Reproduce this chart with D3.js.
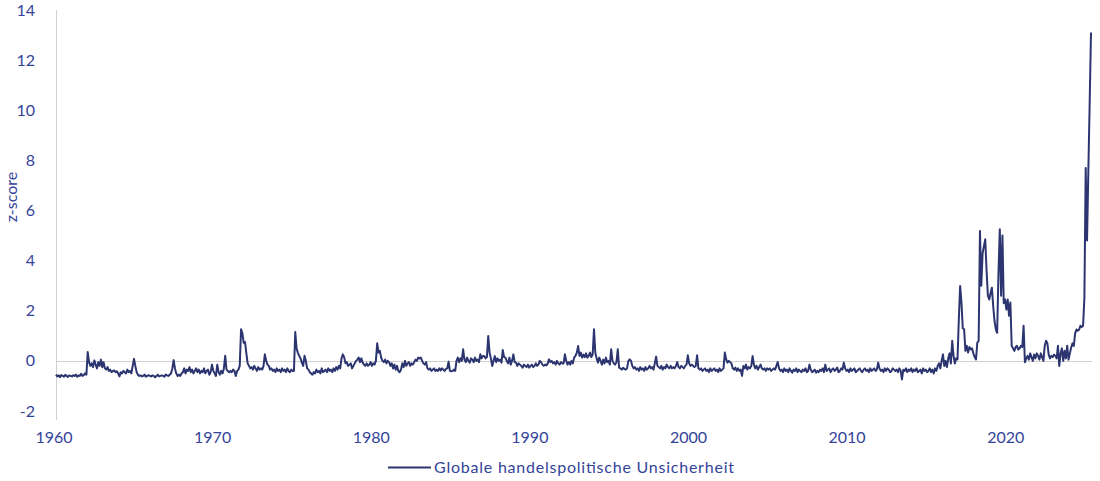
<!DOCTYPE html>
<html><head><meta charset="utf-8">
<script src="https://cdn.jsdelivr.net/npm/d3@7"></script>
<style>
html,body{margin:0;padding:0;background:#fff;}
svg text{font-family:Lato,"Open Sans",sans-serif;fill:#33449a;}
</style></head>
<body><svg id="chart" width="1100" height="481"></svg>
<script>
// Monthly z-scores, one row per year (Jan..Dec), grouped by decade
const startYear = 1960;
const vals1960s = [
 [-0.55,-0.62,-0.58,-0.65,-0.57,-0.6,-0.63,-0.56,-0.6,-0.64,-0.58,-0.6],
 [-0.62,-0.57,-0.6,-0.55,-0.63,-0.58,-0.6,-0.52,-0.6,-0.57,-0.5,-0.55],
 [0.35,-0.05,-0.2,-0.1,-0.25,0.02,-0.15,-0.3,-0.05,-0.2,0.05,-0.25],
 [-0.05,-0.3,-0.35,-0.25,-0.4,-0.35,-0.45,-0.4,-0.38,-0.45,-0.42,-0.5],
 [-0.62,-0.45,-0.5,-0.4,-0.45,-0.5,-0.35,-0.45,-0.4,-0.5,-0.2,0.08],
 [-0.2,-0.45,-0.55,-0.6,-0.58,-0.62,-0.6,-0.55,-0.63,-0.6,-0.57,-0.6],
 [-0.62,-0.58,-0.6,-0.65,-0.6,-0.55,-0.62,-0.6,-0.58,-0.6,-0.63,-0.55],
 [-0.58,-0.6,-0.55,-0.5,-0.3,0.03,-0.3,-0.5,-0.6,-0.55,-0.6,-0.5],
 [-0.45,-0.3,-0.5,-0.35,-0.4,-0.25,-0.45,-0.35,-0.5,-0.4,-0.3,-0.45],
 [-0.35,-0.5,-0.4,-0.45,-0.3,-0.5,-0.4,-0.35,-0.55,-0.45,-0.15,-0.4]
];
const vals1970s = [
 [-0.5,-0.6,-0.15,-0.45,-0.55,-0.4,-0.5,-0.3,0.2,-0.35,-0.4,-0.45],
 [-0.4,-0.45,-0.35,-0.4,-0.6,-0.4,-0.35,-0.2,1.26,1.1,0.72,0.75],
 [0.3,-0.1,-0.2,-0.3,-0.25,-0.35,-0.2,-0.3,-0.4,-0.25,-0.35,-0.3],
 [-0.35,-0.2,0.26,0.0,-0.15,-0.2,-0.35,-0.3,-0.4,-0.35,-0.45,-0.3],
 [-0.4,-0.35,-0.45,-0.3,-0.4,-0.35,-0.45,-0.3,-0.4,-0.45,-0.35,-0.4],
 [-0.4,1.15,0.5,0.32,0.2,0.1,-0.07,-0.2,0.2,0.0,-0.3,-0.35],
 [-0.45,-0.5,-0.55,-0.45,-0.5,-0.35,-0.45,-0.4,-0.5,-0.3,-0.45,-0.4],
 [-0.35,-0.45,-0.3,-0.4,-0.35,-0.45,-0.3,-0.4,-0.25,-0.35,-0.2,-0.3],
 [0.1,0.26,0.15,-0.1,-0.05,-0.2,-0.15,-0.1,-0.3,-0.2,-0.1,0.0],
 [0.05,0.13,-0.05,0.1,-0.07,-0.15,-0.2,-0.1,-0.2,-0.15,-0.05,-0.2]
];
const vals1980s = [
 [-0.1,-0.15,0.0,0.7,0.33,0.4,0.13,0.0,-0.05,0.05,-0.1,0.0],
 [-0.05,-0.2,-0.1,-0.3,-0.15,-0.35,-0.2,-0.4,-0.45,-0.35,-0.1,-0.25],
 [0.0,-0.2,-0.1,-0.05,-0.2,-0.1,-0.15,-0.05,0.05,0.0,0.13,0.1],
 [0.13,0.0,-0.1,-0.15,-0.05,-0.3,-0.35,-0.3,-0.4,-0.35,-0.3,-0.4],
 [-0.35,-0.4,-0.3,-0.38,-0.3,-0.35,-0.4,-0.32,-0.3,-0.03,-0.4,-0.42],
 [-0.4,-0.35,-0.4,0.0,0.13,-0.05,0.1,0.0,0.46,0.05,-0.05,0.13],
 [0.0,-0.07,0.1,0.05,-0.05,0.13,0.0,0.05,-0.05,0.26,0.1,0.19],
 [0.19,0.1,0.15,0.99,0.33,0.1,-0.2,0.0,0.19,-0.05,0.1,0.0],
 [0.05,-0.07,0.43,0.15,0.13,0.0,-0.1,0.13,-0.15,0.0,0.26,-0.05],
 [-0.07,-0.2,-0.1,-0.15,-0.2,-0.27,-0.15,-0.2,-0.25,-0.15,-0.27,-0.2]
];
const vals1990s = [
 [-0.15,-0.25,-0.2,-0.1,-0.2,-0.15,0.0,-0.05,-0.15,-0.2,-0.15,-0.18],
 [-0.1,0.06,-0.05,0.0,-0.1,-0.05,-0.15,0.0,-0.1,-0.15,-0.05,-0.1],
 [-0.1,0.26,0.0,-0.15,-0.05,-0.15,0.0,-0.1,0.13,0.2,0.33,0.59],
 [0.2,0.33,0.13,0.25,0.15,0.3,0.13,0.2,0.33,0.15,0.25,1.26],
 [0.33,0.1,-0.07,0.13,0.0,-0.15,0.05,-0.1,0.13,-0.05,0.0,-0.15],
 [0.46,0.0,-0.1,-0.15,-0.05,0.46,-0.27,-0.3,-0.35,-0.28,-0.32,-0.35],
 [-0.3,0.0,0.06,0.0,-0.2,-0.3,-0.25,-0.35,-0.3,-0.4,-0.25,-0.35],
 [-0.3,-0.4,-0.25,-0.35,-0.3,-0.2,-0.3,-0.25,-0.35,-0.1,0.17,-0.2],
 [-0.25,-0.3,-0.2,-0.35,-0.25,-0.3,-0.15,-0.25,-0.3,-0.2,-0.3,-0.25],
 [-0.3,-0.2,-0.05,-0.25,-0.3,-0.2,-0.25,-0.3,-0.2,-0.15,0.22,-0.1]
];
const vals2000s = [
 [-0.2,-0.15,-0.2,-0.25,-0.2,0.22,-0.3,-0.35,-0.3,-0.4,-0.35,-0.3],
 [-0.4,-0.35,-0.45,-0.3,-0.4,-0.35,-0.3,-0.4,-0.35,-0.45,-0.3,-0.4],
 [-0.35,-0.3,0.33,0.06,-0.07,0.0,-0.05,-0.1,-0.3,-0.35,-0.27,-0.4],
 [-0.3,-0.4,-0.35,-0.6,-0.2,-0.3,-0.15,-0.35,-0.25,-0.3,-0.2,0.19],
 [-0.15,-0.3,-0.2,-0.35,-0.25,-0.15,-0.3,-0.35,-0.3,-0.4,-0.3,-0.35],
 [-0.3,-0.4,-0.35,-0.3,-0.35,-0.2,-0.05,-0.3,-0.4,-0.35,-0.45,-0.3],
 [-0.4,-0.35,-0.45,-0.3,-0.4,-0.47,-0.35,-0.4,-0.3,-0.45,-0.35,-0.4],
 [-0.45,-0.35,-0.4,-0.3,-0.45,-0.4,-0.15,-0.35,-0.45,-0.4,-0.35,-0.47],
 [-0.4,-0.45,-0.35,-0.4,-0.3,-0.45,-0.15,-0.4,-0.35,-0.3,-0.45,-0.35],
 [-0.3,-0.4,-0.35,-0.27,-0.45,-0.4,-0.3,-0.35,-0.07,-0.3,-0.4,-0.35]
];
const vals2010s = [
 [-0.45,-0.3,-0.4,-0.35,-0.3,-0.45,-0.4,-0.35,-0.3,-0.4,-0.45,-0.35],
 [-0.3,-0.4,-0.35,-0.45,-0.3,-0.4,-0.35,-0.3,-0.4,-0.35,-0.07,-0.3],
 [-0.4,-0.35,-0.45,-0.3,-0.4,-0.3,-0.35,-0.45,-0.4,-0.3,-0.35,-0.4],
 [-0.35,-0.45,-0.3,-0.4,-0.74,-0.35,-0.4,-0.3,-0.45,-0.35,-0.4,-0.3],
 [-0.45,-0.35,-0.4,-0.3,-0.45,-0.4,-0.35,-0.5,-0.3,-0.4,-0.35,-0.45],
 [-0.4,-0.3,-0.45,-0.35,-0.5,-0.3,-0.4,-0.2,-0.1,-0.3,0.0,0.26],
 [-0.2,0.0,-0.25,0.1,0.3,-0.1,0.8,0.2,-0.1,0.1,0.06,1.65],
 [2.99,2.33,1.3,1.26,0.4,0.6,0.33,0.55,0.46,0.5,0.3,0.15],
 [0.06,0.73,0.8,5.18,3.0,4.3,4.58,4.85,3.6,2.6,2.45,2.7],
 [2.92,2.19,1.6,1.26,1.12,3.5,5.25,2.6,5.0,2.3,2.45,2.05]
];
const vals2020s = [
 [2.45,1.8,2.33,0.6,0.5,0.4,0.55,0.6,0.45,0.5,0.6,0.55],
 [1.4,-0.05,0.1,0.2,0.05,0.3,0.15,0.0,0.25,0.1,0.3,0.2],
 [0.05,0.3,0.15,0.0,0.6,0.8,0.7,0.25,0.1,0.2,0.15,0.25],
 [0.2,0.1,0.6,-0.2,0.3,0.5,0.0,0.4,0.1,0.6,0.05,0.3],
 [0.53,0.7,0.6,1.1,1.25,1.2,1.25,1.4,1.35,1.4,2.5,7.7],
 [4.8,7.6,10.3,13.1]
];
const yTicks = [-2,0,2,4,6,8,10,12,14];
const xTicks = [1960,1970,1980,1990,2000,2010,2020];
const seriesName = "Globale handelspolitische Unsicherheit";
const yTitle = "z-score";

const rows = [].concat(vals1960s, vals1970s, vals1980s, vals1990s, vals2000s, vals2010s, vals2020s);
const data = [];
rows.forEach((r, yi) => r.forEach((v, m) => data.push({t: startYear + yi + m / 12, v})));

const svg = d3.select("#chart");
const x = d3.scaleLinear().domain([1960, data[data.length - 1].t]).range([56, 1091]);
const y = d3.scaleLinear().domain([-2, 14]).range([411, 10]);

// y axis line
svg.append("line").attr("x1", 56.5).attr("x2", 56.5).attr("y1", y(14)).attr("y2", y(-2) + 9)
  .attr("stroke", "#d0d0d0").attr("stroke-width", 1);
// zero line
svg.append("line").attr("x1", 56).attr("x2", 1092).attr("y1", Math.round(y(0)) + 0.5).attr("y2", Math.round(y(0)) + 0.5)
  .attr("stroke", "#d0d0d0").attr("stroke-width", 1);

// y tick labels
svg.append("g").selectAll("text").data(yTicks).join("text")
  .attr("x", 35).attr("y", d => y(d)).attr("dy", "0.35em")
  .attr("text-anchor", "end").attr("font-size", 16).text(d => d);

// x tick labels
svg.append("g").selectAll("text").data(xTicks).join("text")
  .attr("x", d => x(d) - 2).attr("y", 443)
  .attr("text-anchor", "middle").attr("font-size", 16).text(d => d);

// y title
svg.append("text").attr("transform", "translate(17,197) rotate(-90)")
  .attr("text-anchor", "middle").attr("font-size", 16).text(yTitle);

// line
const line = d3.line().x(d => x(d.t)).y(d => y(d.v));
svg.append("path").datum(data).attr("d", line)
  .attr("fill", "none").attr("stroke", "#2c3570").attr("stroke-width", 2).attr("stroke-linejoin", "round");

// legend
svg.append("line").attr("x1", 388).attr("x2", 431).attr("y1", 467.5).attr("y2", 467.5)
  .attr("stroke", "#2c3570").attr("stroke-width", 2);
svg.append("text").attr("x", 434).attr("y", 473).attr("font-size", 16)
  .attr("textLength", 300).attr("lengthAdjust", "spacing").text(seriesName);
</script></body></html>
